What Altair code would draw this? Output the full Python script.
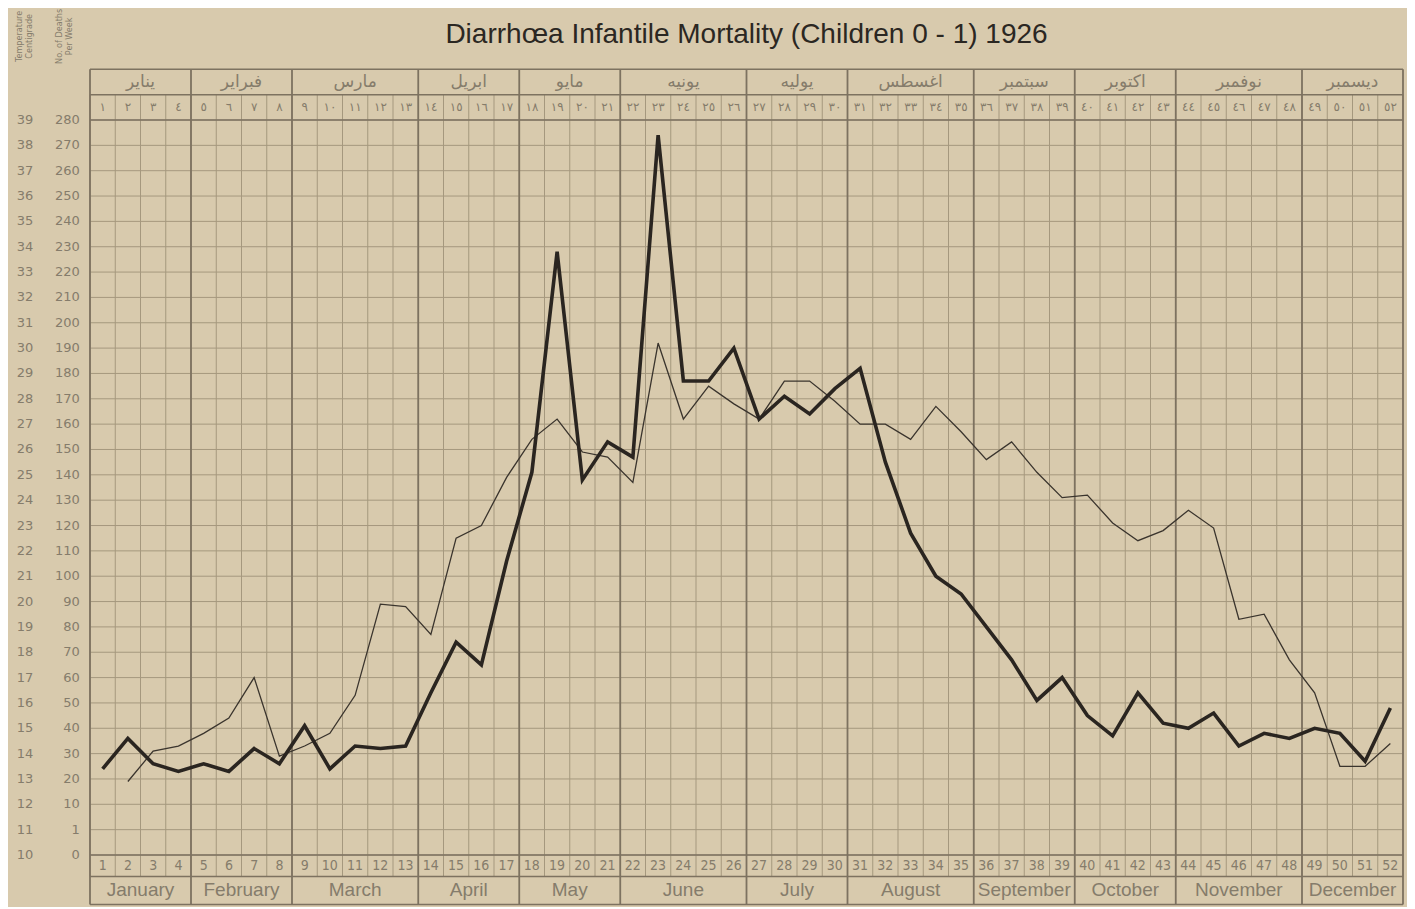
import altair as alt
import numpy as np
import pandas as pd

# ---------------- data ----------------
weeks = list(range(1, 53))
deaths = [24, 36, 26, 23, 26, 23, 32, 26, 41, 24, 33, 32, 33, 54, 74, 65, 106,
          141, 228, 138, 153, 147, 274, 177, 177, 190, 162, 171, 164, 174, 182,
          145, 117, 100, 93, 80, 67, 51, 60, 45, 37, 54, 42, 40, 46, 33, 38, 36,
          40, 38, 27, 48]
temperature = [None, 12.9, 14.1, 14.3, 14.8, 15.4, 17.0, 13.9, 14.3, 14.8, 16.3,
               19.9, 19.8, 18.7, 22.5, 23.0, 24.9, 26.4, 27.2, 25.9, 25.7, 24.7,
               30.2, 27.2, 28.5, 27.8, 27.2, 28.7, 28.7, 27.9, 27.0, 27.0, 26.4,
               27.7, 26.7, 25.6, 26.3, 25.1, 24.1, 24.2, 23.1, 22.4, 22.8, 23.6,
               22.9, 19.3, 19.5, 17.7, 16.4, 13.5, 13.5, 14.4]
months_en = ["January", "February", "March", "April", "May", "June", "July",
             "August", "September", "October", "November", "December"]
months_ar = ["يناير", "فبراير", "مارس", "ابريل", "مايو", "يونيه", "يوليه",
             "اغسطس", "سبتمبر", "اكتوبر", "نوفمبر", "ديسمبر"]
month_weeks = [4, 4, 5, 4, 4, 5, 4, 5, 4, 4, 5, 4]
week_labels_en = [str(w) for w in weeks]
_ar = str.maketrans("0123456789", "٠١٢٣٤٥٦٧٨٩")
week_labels_ar = [str(w).translate(_ar) for w in weeks]
temp_ticks = list(range(10, 40))
temp_tick_labels = [str(t) for t in temp_ticks]
death_tick_labels = ["0", "1"] + [str(d) for d in range(10, 290, 10)]
TITLE = "Diarrhœa  Infantile Mortality  (Children 0 - 1) 1926"

# ---------------- style ----------------
BG = "#d8caad"
GRID = "#a5987e"
GRID_DARK = "#7d7260"
TEXT = "#857c6b"
INK = "#2a2520"
W, H = 1313, 735

xs = alt.Scale(domain=[0.5, 52.5], nice=False, zero=False)
ys = alt.Scale(domain=[10, 39], nice=False, zero=False)

# header / footer row levels in temperature-scale units
TOP_MONTH, TOP_WEEK = 41.0, 40.0
BOT_WEEK, BOT_MONTH = 9.15, 8.05


def X(f):
    return alt.X(f, type="quantitative", scale=xs, axis=None)


def Xd(v):
    return alt.XDatum(v, type="quantitative", scale=xs, axis=None)


def Y(f):
    return alt.Y(f, type="quantitative", scale=ys, axis=None)


def Yd(v):
    return alt.YDatum(v, type="quantitative", scale=ys, axis=None)


# ---------------- tables ----------------
df = pd.DataFrame({"week": weeks, "deaths": deaths, "temp": temperature})
wk = pd.DataFrame({"week": weeks, "en": week_labels_en, "ar": week_labels_ar})
bounds = pd.DataFrame({"b": [w - 0.5 for w in weeks] + [52.5]})
ends = np.cumsum(month_weeks)
mo = pd.DataFrame({"en": months_en, "ar": months_ar,
                   "start": ends - np.array(month_weeks) + 0.5,
                   "end": ends + 0.5})
mo["mid"] = (mo["start"] + mo["end"]) / 2
mbounds = pd.DataFrame({"b": [0.5] + list(mo["end"])})
levels = pd.DataFrame({"lv": [TOP_MONTH, TOP_WEEK, BOT_WEEK, BOT_MONTH]})
ticks = pd.DataFrame({"t": temp_ticks, "tl": temp_tick_labels,
                      "dl": death_tick_labels})

# ---------------- layers ----------------
h_grid = alt.Chart(ticks).mark_rule(color=GRID, strokeWidth=1).encode(
    x=Xd(0.5), x2=alt.X2Datum(52.5), y=Y("t"))

week_rules = alt.Chart(bounds).mark_rule(color=GRID, strokeWidth=1).encode(
    x=X("b"), y=Yd(BOT_WEEK), y2=alt.Y2Datum(TOP_WEEK))

month_rules = alt.Chart(mbounds).mark_rule(color=GRID_DARK, strokeWidth=1.8).encode(
    x=X("b"), y=Yd(BOT_MONTH), y2=alt.Y2Datum(TOP_MONTH))

level_rules = alt.Chart(levels).mark_rule(color=GRID_DARK, strokeWidth=1.5).encode(
    x=Xd(0.5), x2=alt.X2Datum(52.5), y=Y("lv"))

frame = alt.Chart(pd.DataFrame({"lv": [10, 39]})).mark_rule(
    color=GRID_DARK, strokeWidth=1.5).encode(x=Xd(0.5), x2=alt.X2Datum(52.5), y=Y("lv"))

temp_line = alt.Chart(df).mark_line(color="#3a342d", strokeWidth=1.3).encode(
    x=X("week"), y=Y("temp"))

death_line = alt.Chart(df).transform_calculate(
    dy="datum.deaths / 10 + 11").mark_line(
    color=INK, strokeWidth=3.6, strokeJoin="miter").encode(
    x=X("week"), y=Y("dy"))

font_narrow = "Liberation Sans Narrow, DejaVu Sans Condensed, Liberation Sans"

temp_lbl = alt.Chart(ticks).mark_text(
    font="DejaVu Sans", fontSize=13, color=TEXT, align="center", baseline="middle").encode(
    x=Xd(-2.07), y=Y("t"), text="tl:N")

death_lbl = alt.Chart(ticks).mark_text(
    font="DejaVu Sans", fontSize=13, color=TEXT, align="right", baseline="middle").encode(
    x=Xd(0.1), y=Y("t"), text="dl:N")

bot_week_txt = alt.Chart(wk).mark_text(
    font=font_narrow, fontSize=14, color=TEXT, baseline="middle").encode(
    x=X("week"), y=Yd((10 + BOT_WEEK) / 2), text="en:N")

top_week_txt = alt.Chart(wk).mark_text(
    font="DejaVu Sans", fontSize=12, color=TEXT, baseline="middle").encode(
    x=X("week"), y=Yd((39 + TOP_WEEK) / 2), text="ar:N")

bot_month_txt = alt.Chart(mo).mark_text(
    font="Liberation Sans", fontSize=19, color=TEXT, baseline="middle").encode(
    x=X("mid"), y=Yd((BOT_WEEK + BOT_MONTH) / 2), text="en:N")

top_month_txt = alt.Chart(mo).mark_text(
    font="DejaVu Sans", fontSize=17, color=TEXT, baseline="middle").encode(
    x=X("mid"), y=Yd((TOP_WEEK + TOP_MONTH) / 2), text="ar:N")

title_txt = alt.Chart(pd.DataFrame({"t": [TITLE]})).mark_text(
    font="Liberation Sans", fontSize=28, color="#2b2722", baseline="alphabetic").encode(
    x=Xd(26.5), y=Yd(42.02), text="t:N")

side_titles = alt.Chart(pd.DataFrame({
    "t": ["Temperature\nCentigrade", "No. of Deaths\nPer Week"],
    "xp": [-2.3, -0.72]})).mark_text(
    font=font_narrow, fontSize=9, color=TEXT, angle=270, align="center",
    baseline="middle", lineBreak="\n", lineHeight=10).encode(
    x=X("xp"), y=Yd(42.3), text="t:N")

chart = alt.layer(
    h_grid, week_rules, month_rules, level_rules, frame,
    temp_line, death_line,
    temp_lbl, death_lbl,
    bot_week_txt, top_week_txt, bot_month_txt, top_month_txt,
    title_txt, side_titles,
).properties(
    width=W, height=H, autosize="none",
    padding={"left": 82, "top": 112, "right": 4, "bottom": 52},
).configure(background=BG).configure_view(stroke=None)

chart.save("out.html", embed_options={"renderer": "svg", "actions": False})
